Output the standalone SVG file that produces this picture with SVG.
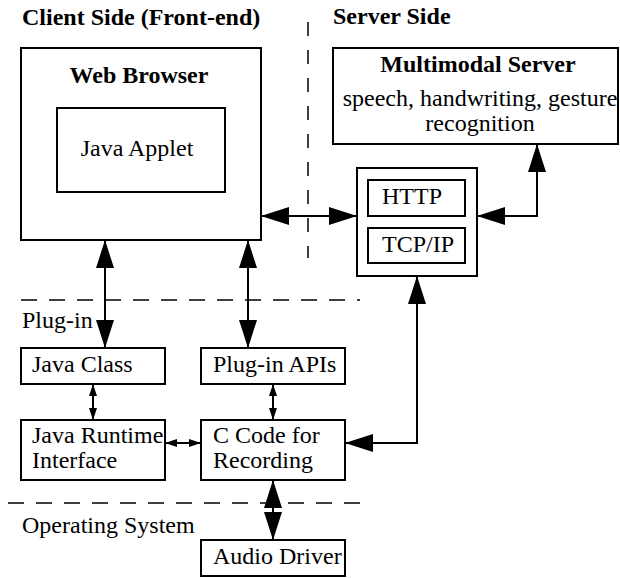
<svg xmlns="http://www.w3.org/2000/svg" width="620" height="578" viewBox="0 0 620 578">
<style>
text{font-family:"Liberation Serif","Times New Roman",serif;font-size:24px;fill:#000}
.b{font-weight:bold}
.c{text-anchor:middle}
.box{fill:#fff;stroke:#000;stroke-width:2}
.con{fill:none;stroke:#000;stroke-width:2}
.big{marker-start:url(#hb);marker-end:url(#hb)}
.sm{marker-start:url(#hs);marker-end:url(#hs)}
.dash{stroke:#000;stroke-width:1.5;stroke-dasharray:16 12;fill:none}
</style>
<defs>
<marker id="hb" viewBox="0 0 28 18" refX="28" refY="9" markerWidth="28" markerHeight="18" markerUnits="userSpaceOnUse" orient="auto-start-reverse"><path d="M0,0 L28,9 L0,18 z" fill="#000"/></marker>
<marker id="hs" viewBox="0 0 12 8" refX="12" refY="4" markerWidth="12" markerHeight="8" markerUnits="userSpaceOnUse" orient="auto-start-reverse"><path d="M0,0 L12,4 L0,8 z" fill="#000"/></marker>
</defs>
<g id="regions">
<line class="dash" x1="308" y1="22" x2="308" y2="258" style="stroke-dasharray:14 14"/>
<line class="dash" x1="21" y1="300" x2="360" y2="300"/>
<line class="dash" x1="8" y1="503" x2="372" y2="503"/>
<text class="b" x="22" y="25">Client Side (Front-end)</text>
<text class="b" x="333" y="24">Server Side</text>
<text x="22" y="328">Plug-in</text>
<text x="22" y="533">Operating System</text>
</g>
<g id="connectors">
<line class="con big" x1="105" y1="240" x2="105" y2="348"/>
<line class="con big" x1="248" y1="240" x2="248" y2="348"/>
<line class="con big" x1="261" y1="216" x2="357" y2="216"/>
<polyline class="con big" points="477,216 537,216 537,144"/>
<polyline class="con big" points="345,443 417,443 417,276"/>
<line class="con sm" x1="93" y1="384" x2="93" y2="420"/>
<line class="con sm" x1="273" y1="384" x2="273" y2="420"/>
<line class="con sm" x1="165" y1="443" x2="201" y2="443"/>
<line class="con big" x1="273" y1="480" x2="273" y2="540"/>
</g>
<g id="web-browser">
<rect class="box" x="21" y="48" width="240" height="192"/>
<text class="b c" x="139" y="83">Web Browser</text>
</g>
<g id="java-applet">
<rect class="box" x="57" y="108" width="168" height="84"/>
<text class="c" x="137" y="156">Java Applet</text>
</g>
<g id="multimodal-server">
<rect class="box" x="333" y="48" width="285" height="96"/>
<text class="b c" x="478" y="72">Multimodal Server</text>
<text class="c" x="480" y="106">speech, handwriting, gesture</text>
<text class="c" x="480" y="131">recognition</text>
</g>
<g id="protocol-stack">
<rect class="box" x="357" y="168" width="120" height="108"/>
</g>
<g id="http">
<rect class="box" x="368" y="180" width="97" height="36"/>
<text x="382" y="204">HTTP</text>
</g>
<g id="tcpip">
<rect class="box" x="368" y="228" width="97" height="35"/>
<text x="382" y="252">TCP/IP</text>
</g>
<g id="java-class">
<rect class="box" x="21" y="348" width="144" height="36"/>
<text x="32" y="372">Java Class</text>
</g>
<g id="plugin-apis">
<rect class="box" x="201" y="348" width="144" height="36"/>
<text x="213" y="372">Plug-in APIs</text>
</g>
<g id="java-runtime">
<rect class="box" x="21" y="420" width="144" height="60"/>
<text x="32" y="443">Java Runtime</text>
<text x="32" y="468">Interface</text>
</g>
<g id="c-code">
<rect class="box" x="201" y="420" width="144" height="60"/>
<text x="213" y="443">C Code for</text>
<text x="213" y="468">Recording</text>
</g>
<g id="audio-driver">
<rect class="box" x="201" y="540" width="144" height="36"/>
<text x="213" y="564">Audio Driver</text>
</g>
</svg>
